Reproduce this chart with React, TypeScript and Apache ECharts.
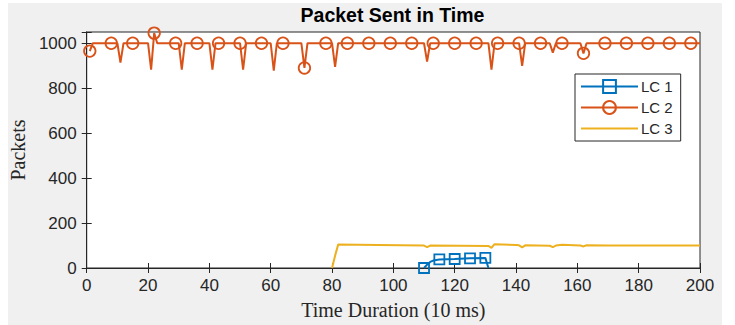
import React, { useEffect, useRef } from "react";
import * as echarts from "echarts";

const C1 = "#0072BD";
const C2 = "#D95319";
const C3 = "#EDB120";

// LC 1 vertices
const lc1X = [110, 111, 112, 113, 114, 115, 120, 125, 130, 131];
const lc1Y = [0, 15, 27, 33, 36, 38, 40, 43, 45, 0];
const lc1Markers = [110, 115, 120, 125, 130];

// LC 2 vertices
const lc2X = [1, 2, 8, 10, 11, 12, 15, 20, 21, 22, 23, 29, 30, 31, 32, 36, 40, 41, 42, 43, 50, 51, 52, 57, 60, 61, 62, 64, 70, 71, 72, 78, 80, 81, 82, 85, 92, 99, 106, 110, 111, 112, 113, 120, 127, 131, 132, 133, 134, 141, 142, 143, 148, 151, 152, 153, 155, 161, 162, 163, 169, 176, 183, 190, 197, 200];
const lc2Y = [965, 1000, 1000, 1000, 914, 1000, 1000, 1000, 882, 1045, 1000, 1000, 1000, 882, 1000, 1000, 1000, 882, 1000, 1000, 1000, 882, 1000, 1000, 1000, 878, 1000, 1000, 1000, 890, 1000, 1000, 1000, 895, 1000, 1000, 1000, 1000, 1000, 1000, 918, 1000, 1000, 1000, 1000, 1000, 882, 1000, 1000, 1000, 899, 1000, 1000, 1000, 958, 1000, 1000, 1000, 955, 1000, 1000, 1000, 1000, 1000, 1000, 1000];
const lc2Markers = [1, 8, 15, 22, 29, 36, 43, 50, 57, 64, 71, 78, 85, 92, 99, 106, 113, 120, 127, 134, 141, 148, 155, 162, 169, 176, 183, 190, 197];

// LC 3 vertices
const lc3X = [80, 81, 82, 95, 110, 111, 112, 131, 132, 133, 140, 141, 142, 143, 151, 152, 153, 155, 161, 162, 163, 170, 200];
const lc3Y = [0, 55, 104, 102, 100, 93, 100, 98, 90, 106, 102, 101, 92, 101, 99, 93, 100, 103, 100, 96, 101, 100, 100];

const seriesNames = ["LC 1", "LC 2", "LC 3"];
const xTicks = { min: 0, max: 200, interval: 20 };
const yTicks = { min: 0, max: 1050, interval: 200 };

function build(xs: number[], ys: number[], markers: number[]) {
  return xs.map((x, i) => {
    const item: any = { value: [x, ys[i]] };
    if (!markers.includes(x)) item.symbol = "none";
    return item;
  });
}

const AX = "#262626";

export default function App() {
  const ref = useRef<HTMLDivElement>(null);
  useEffect(() => {
    const chart = echarts.init(ref.current!, null, { renderer: "svg" });
    const L = 85, R = 700, T = 32, B = 269;
    const tickStyle = { inside: true, length: 5, lineStyle: { color: AX, width: 1 } };
    chart.setOption({
      animation: false,
      backgroundColor: "#ffffff",
      graphic: [
        { type: "rect", z: -10, shape: { x: 8, y: 3, width: 714, height: 322 }, style: { fill: "#f0f0f0" } },
        {
          type: "text", x: (L + R) / 2, y: 15, z: 10,
          style: { text: "Packet Sent in Time", textAlign: "center", textVerticalAlign: "middle", fontFamily: "Liberation Sans, Arial, sans-serif", fontWeight: "bold", fontSize: 19.5, fill: "#000" },
        },
      ],
      grid: { left: L, right: 735 - R, top: T, bottom: 325 - B, show: true, backgroundColor: "#ffffff", borderColor: AX, borderWidth: 1 },
      legend: {
        orient: "vertical",
        left: 575,
        top: 74,
        data: [
          { name: seriesNames[0] },
          { name: seriesNames[1] },
          { name: seriesNames[2], itemStyle: { opacity: 0 } },
        ],
        itemWidth: 57,
        itemHeight: 16,
        itemGap: 6,
        padding: [5, 8, 5, 5],
        backgroundColor: "#ffffff",
        borderColor: AX,
        borderWidth: 1,
        textStyle: { fontFamily: "Liberation Sans, Arial, sans-serif", fontSize: 15, color: AX, padding: [0, 0, 0, -2] },
      },
      xAxis: [
        {
          type: "value", ...xTicks, position: "bottom",
          name: "Time Duration (10 ms)", nameLocation: "middle", nameGap: 32,
          nameTextStyle: { fontFamily: "Liberation Serif, Times New Roman, serif", fontSize: 20, color: AX },
          axisLine: { show: true, lineStyle: { color: AX } },
          axisTick: tickStyle,
          axisLabel: { margin: 9, fontFamily: "Liberation Sans, Arial, sans-serif", fontSize: 17, color: AX },
          splitLine: { show: false },
        },
        {
          type: "value", ...xTicks, position: "top",
          axisLine: { show: true, lineStyle: { color: AX } },
          axisTick: tickStyle, axisLabel: { show: false }, splitLine: { show: false },
        },
      ],
      yAxis: [
        {
          type: "value", ...yTicks, position: "left",
          name: "Packets", nameLocation: "middle", nameGap: 56,
          nameTextStyle: { fontFamily: "Liberation Serif, Times New Roman, serif", fontSize: 20, color: AX },
          axisLine: { show: true, lineStyle: { color: AX } },
          axisTick: tickStyle,
          axisLabel: { margin: 10, fontFamily: "Liberation Sans, Arial, sans-serif", fontSize: 17, color: AX, formatter: (v: number) => (v > 1000 ? "" : String(v)) },
          splitLine: { show: false },
        },
        {
          type: "value", ...yTicks, position: "right",
          axisLine: { show: true, lineStyle: { color: AX } },
          axisTick: tickStyle, axisLabel: { show: false }, splitLine: { show: false },
        },
      ],
      series: [
        {
          name: seriesNames[0], type: "line", xAxisIndex: 0, yAxisIndex: 0,
          data: build(lc1X, lc1Y, lc1Markers),
          symbol: "rect", symbolSize: 10,
          lineStyle: { color: C1, width: 2 },
          itemStyle: { color: "rgba(255,255,255,0)", borderColor: C1, borderWidth: 1.8 },
          z: 3,
        },
        {
          name: seriesNames[1], type: "line", xAxisIndex: 0, yAxisIndex: 0,
          data: build(lc2X, lc2Y, lc2Markers),
          symbol: "circle", symbolSize: 11.5,
          lineStyle: { color: C2, width: 2 },
          itemStyle: { color: "rgba(255,255,255,0)", borderColor: C2, borderWidth: 1.8 },
          z: 4,
        },
        {
          name: seriesNames[2], type: "line", xAxisIndex: 0, yAxisIndex: 0,
          data: build(lc3X, lc3Y, []),
          symbol: "none",
          lineStyle: { color: C3, width: 2 },
          itemStyle: { color: "rgba(255,255,255,0)", borderWidth: 0 },
          z: 5,
        },
      ],
    });
    return () => chart.dispose();
  }, []);
  return <div ref={ref} style={{ position: "fixed", left: 0, top: 0, width: 735, height: 325 }} />;
}
